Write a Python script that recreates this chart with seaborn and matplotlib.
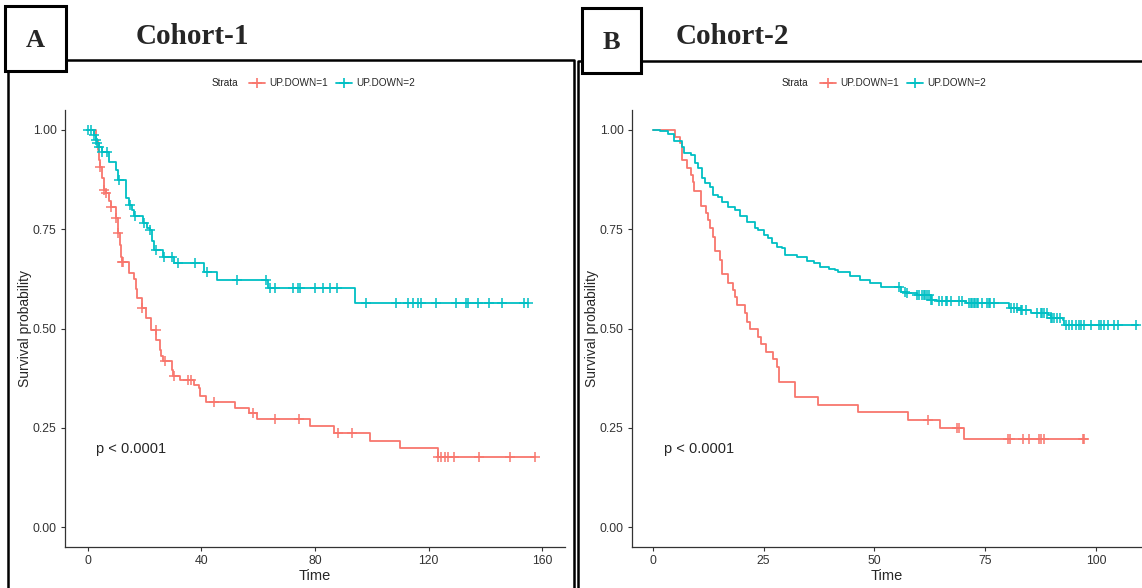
import numpy as np
import pandas as pd
import matplotlib
matplotlib.use('Agg')
import matplotlib.pyplot as plt
from matplotlib.lines import Line2D
from matplotlib.patches import Rectangle
import seaborn as sns

sns.set_style('white')
plt.rcParams['font.family'] = ['Liberation Sans', 'DejaVu Sans']

RED = '#F8766D'
CYAN = '#00BFC4'

# %% Cohort-1 KM steps (time, survival after step)
c1_up1_time = [0, 3.0, 3.6, 4.0, 4.3, 5.0, 5.7, 6.6, 7.5, 8.1, 9.8, 10.8, 11.5, 11.8, 12.2,
               14.5, 16.3, 17.0, 17.4, 19.0, 20.4, 22.1, 24.2, 25.3, 25.8, 26.5, 29.5, 30.0, 32.4,
               37.3, 39.0, 39.6, 41.8, 52.0, 56.6, 59.5, 78.2, 86.7, 99.3, 110.0, 123.3, 157.4]
c1_up1_surv = [1.0, 0.975, 0.95, 0.925, 0.907, 0.88, 0.849, 0.84, 0.82, 0.807, 0.778, 0.741, 0.71,
               0.681, 0.668, 0.639, 0.624, 0.60, 0.576, 0.551, 0.526, 0.496, 0.470, 0.446, 0.432,
               0.418, 0.395, 0.381, 0.370, 0.358, 0.349, 0.330, 0.314, 0.301, 0.288, 0.272, 0.255,
               0.238, 0.217, 0.198, 0.177, 0.177]
c1_up1_cens = [4.3, 5.7, 6.6, 8.1, 9.8, 10.8, 12.2, 12.5, 19.2, 23.9, 27.2, 30.2, 35.3, 36.5,
               44.4, 58.2, 66.0, 74.4, 88.2, 92.9, 123.3, 124.5, 125.7, 126.9, 128.9, 137.9,
               148.7, 157.4]

c1_up2_time = [0, 2.2, 2.8, 3.4, 4.0, 5.1, 7.5, 9.8, 10.6, 13.3, 14.5, 15.7, 16.2, 19.5, 20.7,
               21.9, 22.5, 23.3, 26.5, 30.3, 41.0, 45.5, 63.6, 94.0, 154.9]
c1_up2_surv = [1.0, 0.987, 0.975, 0.966, 0.958, 0.945, 0.920, 0.899, 0.874, 0.828, 0.811, 0.798,
               0.782, 0.765, 0.752, 0.748, 0.719, 0.698, 0.681, 0.664, 0.643, 0.622, 0.601, 0.563,
               0.563]
c1_up2_cens = [0.0, 1.3, 2.2, 2.8, 3.4, 4.0, 5.1, 6.7, 11.0, 14.9, 16.5, 19.8, 21.9, 24.2, 27.0,
               29.7, 31.8, 37.9, 42.0, 52.5, 62.8, 64.2, 66.0, 72.1, 74.1, 74.6, 80.0, 82.7, 85.3,
               87.6, 97.8, 108.6, 112.7, 114.5, 116.3, 117.4, 122.7, 129.5, 133.2, 133.8, 137.3,
               141.4, 145.9, 153.7, 154.9]

# %% Cohort-2 KM steps
c2_up1_time = [0, 5.0, 6.2, 6.5, 6.6, 7.7, 8.7, 9.1, 9.3, 10.8, 12.0, 12.5, 12.9, 13.6, 14.0,
               15.1, 15.5, 17.0, 18.2, 18.6, 18.9, 20.7, 21.3, 22.0, 23.8, 24.4, 25.6, 27.2,
               28.0, 28.5, 32.0, 37.2, 46.2, 57.5, 64.9, 70.2, 97.5]
c2_up1_surv = [1.0, 0.983, 0.966, 0.941, 0.924, 0.903, 0.887, 0.870, 0.847, 0.809, 0.790, 0.773,
               0.752, 0.731, 0.696, 0.673, 0.636, 0.615, 0.597, 0.580, 0.559, 0.540, 0.517, 0.500,
               0.479, 0.460, 0.442, 0.422, 0.404, 0.366, 0.328, 0.308, 0.289, 0.270, 0.249, 0.223,
               0.223]
c2_up1_cens = [62.0, 68.6, 69.2, 80.1, 80.7, 83.5, 85.0, 87.2, 87.7, 88.2, 97.0, 97.4]

c2_up2_time = [0, 1.6, 3.5, 4.8, 6.6, 7.1, 8.7, 9.5, 10.3, 11.0, 11.8, 12.9, 13.6, 14.8, 15.5,
               17.0, 18.6, 19.7, 21.2, 23.1, 23.8, 25.0, 26.1, 26.9, 28.0, 29.1, 29.9, 32.5,
               34.8, 36.3, 37.8, 39.7, 41.2, 41.9, 44.6, 46.8, 49.1, 51.4, 55.9, 57.4, 59.7,
               62.7, 64.2, 70.6, 80.4, 83.0, 85.3, 89.1, 89.8, 92.5, 92.8, 109.4]
c2_up2_surv = [1.0, 0.996, 0.990, 0.971, 0.958, 0.941, 0.937, 0.916, 0.903, 0.878, 0.866, 0.857,
               0.836, 0.830, 0.819, 0.807, 0.798, 0.782, 0.769, 0.752, 0.748, 0.736, 0.727, 0.715,
               0.706, 0.702, 0.685, 0.681, 0.670, 0.664, 0.656, 0.649, 0.647, 0.641, 0.633, 0.622,
               0.615, 0.605, 0.593, 0.589, 0.584, 0.572, 0.568, 0.563, 0.551, 0.547, 0.538, 0.534,
               0.526, 0.521, 0.509, 0.509]
c2_up2_cens = [55.5, 57.0, 57.4, 59.7, 60.0, 60.8, 61.2, 61.5, 61.9, 62.3, 62.7, 63.0, 64.6, 65.3,
               66.1, 66.4, 67.2, 69.1, 69.8, 71.3, 71.7, 72.1, 72.4, 72.8, 73.2, 73.5, 74.4, 75.5,
               75.9, 76.2, 77.0, 80.8, 81.5, 82.3, 83.0, 83.4, 84.2, 86.8, 87.5, 87.9, 88.3, 89.0,
               89.8, 90.1, 90.5, 91.3, 92.0, 93.2, 94.0, 94.7, 95.5, 96.2, 96.6, 97.4, 98.9, 100.8,
               101.2, 101.9, 102.7, 104.1, 104.9, 109.0]

strata = ['UP.DOWN=1', 'UP.DOWN=2']


def surv_at(times, surv, t):
    idx = np.searchsorted(np.asarray(times), np.asarray(t), side='right') - 1
    return np.asarray(surv)[idx]


def km_panel(ax, curves, xlim, xticks):
    for (times, surv, cens), col in zip(curves, [RED, CYAN]):
        df = pd.DataFrame({'time': times, 'surv': surv})
        sns.lineplot(data=df, x='time', y='surv', drawstyle='steps-post', estimator=None,
                     sort=False, color=col, lw=1.3, ax=ax)
        cdf = pd.DataFrame({'time': cens, 'surv': surv_at(times, surv, cens)})
        sns.scatterplot(data=cdf, x='time', y='surv', marker='+', s=45, color=col,
                        linewidth=1.1, ax=ax, zorder=3)
    ax.set_xlim(*xlim)
    ax.set_ylim(-0.05, 1.05)
    ax.set_xticks(xticks)
    ax.set_yticks([0, 0.25, 0.5, 0.75, 1.0])
    ax.set_yticklabels(['0.00', '0.25', '0.50', '0.75', '1.00'])
    ax.set_xlabel('Time', fontsize=10.5, labelpad=1)
    ax.set_ylabel('Survival probability', fontsize=10, labelpad=0.5)
    ax.tick_params(axis='both', direction='out', length=3, width=0.8, color='#333333',
                   labelsize=8.8, labelcolor='#333333', pad=3, left=True, bottom=True)
    for s in ['top', 'right']:
        ax.spines[s].set_visible(False)
    for s in ['left', 'bottom']:
        ax.spines[s].set_color('#333333')
        ax.spines[s].set_linewidth(0.9)
    ax.text(2.6 if xlim[1] < 120 else 2.8, 0.196, 'p < 0.0001', fontsize=10.5, va='center',
            ha='left')


W, H = 1142, 588
fig = plt.figure(figsize=(W / 100, H / 100), dpi=100)

# background layer in pixel coordinates for the panel frames
bg = fig.add_axes([0, 0, 1, 1])
bg.set_xlim(0, W)
bg.set_ylim(H, 0)
bg.axis('off')
frame_kw = dict(color='black', lw=1.8, solid_capstyle='projecting')
bg.add_line(Line2D([8, 8, 574, 574], [588, 60, 60, 588], **frame_kw))
bg.add_line(Line2D([578, 578, 1142], [588, 61, 61], **frame_kw))
for (x0, y0, x1, y1), lab, title, tx in [((5, 6, 66, 71), 'A', 'Cohort-1', 192),
                                        ((582, 8, 641, 73), 'B', 'Cohort-2', 732)]:
    bg.add_patch(Rectangle((x0, y0), x1 - x0, y1 - y0, facecolor='white', edgecolor='black',
                           lw=2.2, zorder=5))
    bg.text((x0 + x1) / 2, (y0 + y1) / 2 + 2, lab, fontsize=19, fontweight='bold',
            family='Liberation Serif', ha='center', va='center', zorder=6)
    bg.text(tx, 37, title, fontsize=21, fontweight='bold', family='Liberation Serif',
            ha='center', va='center', zorder=6)

# legends (ggplot-like, title on the left)
for sx in [212, 782]:
    bg.text(sx, 83, 'Strata', fontsize=7.2, va='center', ha='left', color='#222222')
handles = [Line2D([], [], color=c, marker='+', markersize=7, markeredgewidth=1.2, lw=1.3)
           for c in [RED, CYAN]]

bottom = 1 - 547 / H
height = (547 - 110) / H
axA = fig.add_axes([65 / W, bottom, (565 - 65) / W, height])
axB = fig.add_axes([632 / W, bottom, (W - 632) / W, height])

km_panel(axA, [(c1_up1_time, c1_up1_surv, c1_up1_cens),
               (c1_up2_time, c1_up2_surv, c1_up2_cens)], (-8, 168), [0, 40, 80, 120, 160])
km_panel(axB, [(c2_up1_time, c2_up1_surv, c2_up1_cens),
               (c2_up2_time, c2_up2_surv, c2_up2_cens)], (-4.7, 110.4), [0, 25, 50, 75, 100])

for x_center in [332, 903]:
    fig.legend(handles, strata, ncol=2, frameon=False, fontsize=7.2, handlelength=1.6,
               handletextpad=0.4, columnspacing=0.8, loc='center',
               bbox_to_anchor=(x_center / W, 1 - 83 / H))

fig.savefig('out.png', dpi=100)
